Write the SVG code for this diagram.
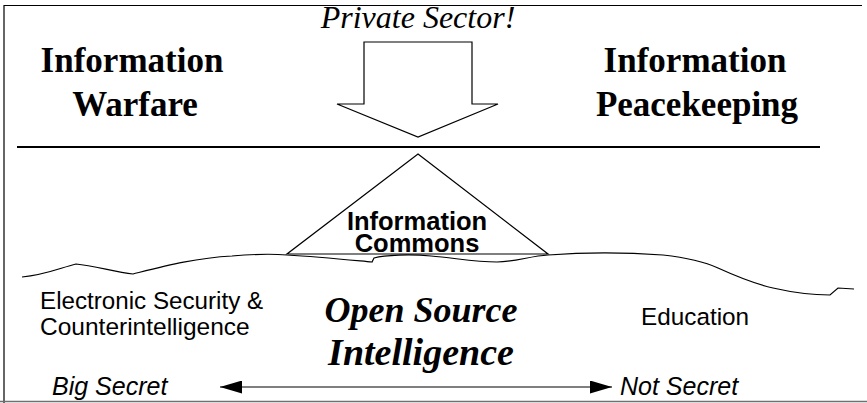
<svg xmlns="http://www.w3.org/2000/svg" width="867" height="403" viewBox="0 0 867 403">
<defs>
<style>
.ln{fill:none;stroke:#000;stroke-width:1.2}
.serifb{font-family:"Liberation Serif","Times New Roman",serif;font-weight:bold;text-anchor:middle;fill:#000}
.sans{font-family:"Liberation Sans",Arial,sans-serif;fill:#000}
</style>
<marker id="ah" viewBox="0 0 10 10" refX="10" refY="5" markerWidth="22" markerHeight="13" markerUnits="userSpaceOnUse" orient="auto-start-reverse" preserveAspectRatio="none">
<path d="M0,0 L10,5 L0,10 Z" fill="#000"/>
</marker>
</defs>
<rect width="867" height="403" fill="#fff"/>
<g id="frame">
<path d="M4,403 V5.5 H862" class="ln" stroke-width="1.5"/>
<line x1="0" y1="401.5" x2="867" y2="401.5" stroke="#707070" stroke-width="1.5"/>
</g>
<g id="connectors">
<polygon id="private-arrow" points="364,42 472,42 472,104 498,104 418,137 337,104 364,104" fill="#fff" stroke="#000" stroke-width="1.2"/>
<line x1="17" y1="147" x2="820" y2="147" stroke="#000" stroke-width="2"/>
<line x1="220" y1="387" x2="612" y2="387" stroke="#000" stroke-width="1.2" marker-start="url(#ah)" marker-end="url(#ah)"/>
</g>
<g id="private-sector">
<text x="418" y="28" font-family="Liberation Serif, Times New Roman, serif" font-style="italic" font-size="32" text-anchor="middle">Private Sector!</text>
</g>
<g id="information-warfare">
<text class="serifb" x="132" y="72" font-size="35">Information</text>
<text class="serifb" x="135" y="116" font-size="35">Warfare</text>
</g>
<g id="information-peacekeeping">
<text class="serifb" x="695" y="72" font-size="35">Information</text>
<text class="serifb" x="697" y="116" font-size="35">Peacekeeping</text>
</g>
<g id="information-commons">
<polygon points="418,154 548,254 287,254" class="ln" fill="#fff"/>
<text class="sans" x="417" y="230" font-size="25.5" font-weight="bold" text-anchor="middle">Information</text>
<text class="sans" x="417" y="252" font-size="25.5" font-weight="bold" text-anchor="middle">Commons</text>
</g>
<g id="surface">
<path class="ln" d="M22,277 C45,275 60,268 76,264 C95,266 115,272 133,274 C165,266 195,258 232,256 C255,254 275,254 287,255 C320,257 350,260 372,262 L374,258 C385,255 410,254 431,256 C455,258 475,262 497,262 C515,262 530,256 548,255 C575,253 620,252 663,255 C690,258 705,262 718,268 C740,278 760,285 773,288 C795,293 815,295 830,295 L838,288 L854,289"/>
</g>
<g id="electronic-security">
<text class="sans" x="40" y="309" font-size="24.2">Electronic Security &amp;</text>
<text class="sans" x="40" y="335" font-size="24.5">Counterintelligence</text>
</g>
<g id="osint">
<text x="421" y="322" font-family="Liberation Serif, Times New Roman, serif" font-weight="bold" font-style="italic" font-size="36" text-anchor="middle">Open Source</text>
<text x="421" y="365" font-family="Liberation Serif, Times New Roman, serif" font-weight="bold" font-style="italic" font-size="38" text-anchor="middle">Intelligence</text>
</g>
<g id="education">
<text class="sans" x="641" y="325" font-size="24.3">Education</text>
</g>
<g id="big-secret">
<text class="sans" x="52" y="395" font-size="25" font-style="italic">Big Secret</text>
</g>
<g id="not-secret">
<text class="sans" x="620" y="395" font-size="25" font-style="italic">Not Secret</text>
</g>
</svg>
